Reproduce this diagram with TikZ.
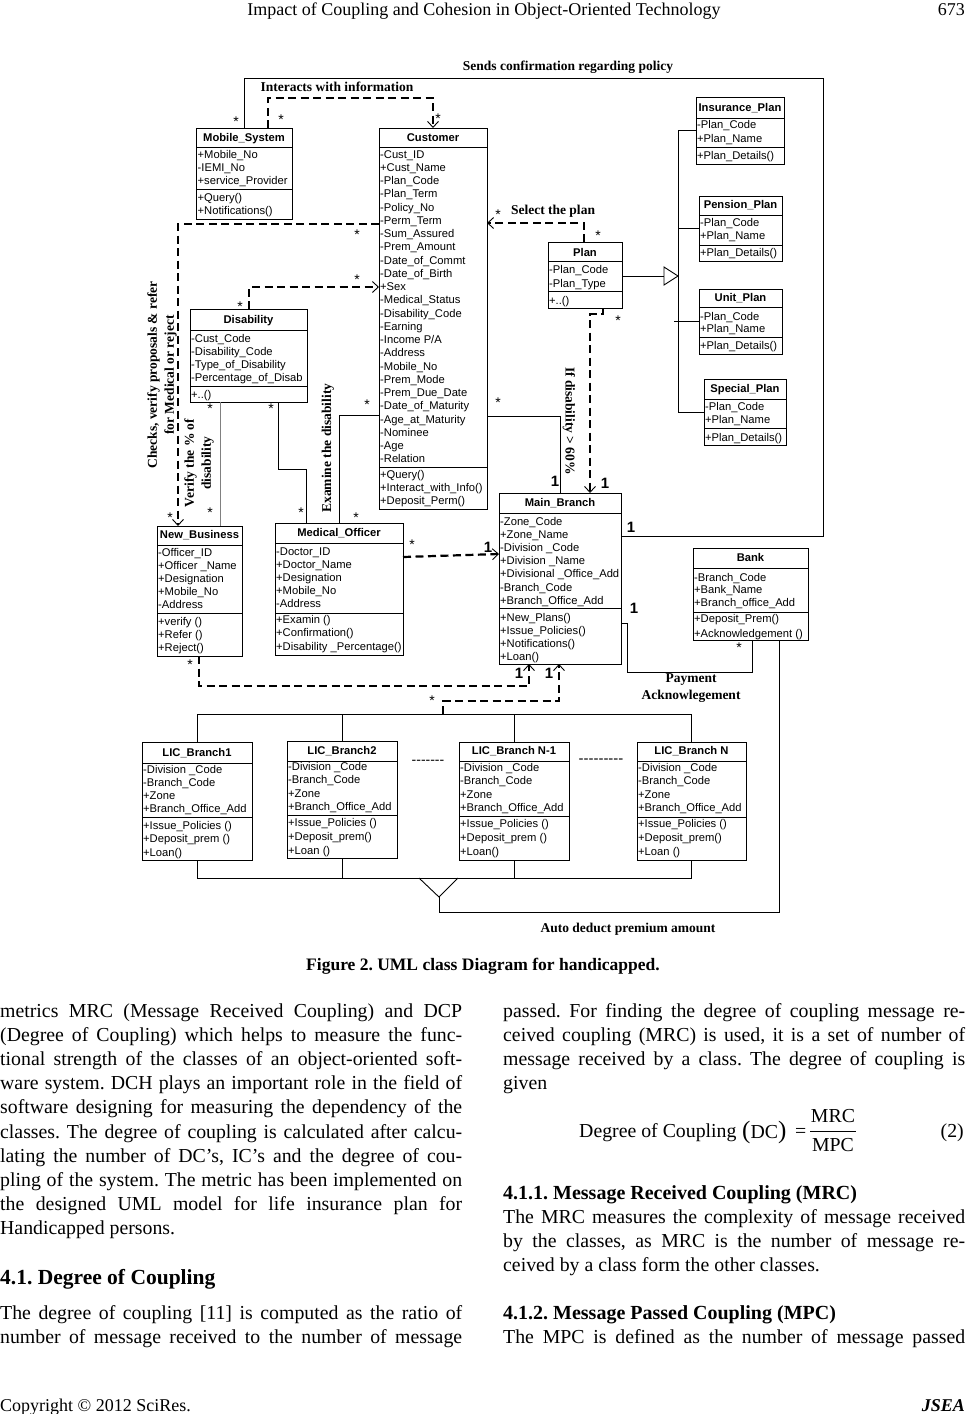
\documentclass[tikz,border=0pt]{standalone}
\usepackage{fontspec}
\setmainfont{Liberation Serif}
\newfontfamily\arial{Liberation Sans}
\usetikzlibrary{arrows.meta}
\frenchspacing
\tikzset{
 box/.style={draw, line width=0.9pt, inner sep=0, outer sep=0, anchor=north west},
 boxline/.style={line width=0.9pt},
 attr/.style={font=\arial\fontsize{11.2}{13}\selectfont, inner sep=0, anchor=base west},
 ttl/.style={font=\arial\bfseries\fontsize{11.2}{13}\selectfont, inner sep=0, anchor=base},
 conn/.style={line width=0.9pt},
 dconn/.style={line width=2.2pt, dash pattern=on 8pt off 4.5pt},
 opena/.style={-{Straight Barb[length=6pt,width=11pt,line width=0.9pt]}},
 lbl/.style={font=\bfseries\fontsize{13.5}{17}\selectfont, inner sep=0, align=center},
 mult/.style={font=\arial\fontsize{14}{15}\selectfont, inner sep=0, yshift=-3pt},
 one/.style={font=\arial\bfseries\fontsize{15}{16}\selectfont, inner sep=0},
 body/.style={font=\fontsize{19.8}{24}\selectfont, inner sep=0, anchor=base west},
 bhead/.style={font=\bfseries\fontsize{20}{24}\selectfont, inner sep=0, anchor=base west},
}
\newcommand\umlbox[9]{%
 \pgfmathsetmacro\bw{#4-#2}\pgfmathsetmacro\bh{#5-#3}\pgfmathsetmacro\ty{#9+4}%
 \node[box, minimum width=\bw pt, minimum height=\bh pt] (#1) at (#2,#3) {};
 \draw[boxline] (#1.west |- 0,#6) -- (#1.east |- 0,#6);
 \draw[boxline] (#1.west |- 0,#7) -- (#1.east |- 0,#7);
 \node[ttl] at (#1.north |- 0,\ty) {#8};}
\newcommand\attrs[4]{\foreach \itm [count=\i from 0] in {#4} {\pgfmathsetmacro\yy{#2+\i*#3+4}\node[attr] at (#1,\yy) {\itm};}}
\newcommand\jline[3]{\node[body] at (#1,#2) {\makebox[462pt][s]{#3}};}
\newcommand\pline[3]{\node[body] at (#1,#2) {#3};}
\begin{document}
\begin{tikzpicture}[x=1pt,y=-1pt]
\useasboundingbox (0,0) rectangle (967,1414);
\fill[white] (0,0) rectangle (967,1414);

% page header
\node[font=\fontsize{18}{20}\selectfont, inner sep=0, anchor=base] (hdr) at (484,15) {Impact of Coupling and Cohesion in Object-Oriented Technology};
\node[font=\fontsize{18}{20}\selectfont, inner sep=0, anchor=base east] (pg) at (965,15) {673};

% ---------- classes ----------
\umlbox{ms}{196}{128}{292}{219}{147}{189}{Mobile\_System}{137}
\attrs{197.5}{154}{13}{+Mobile\_No,-IEMI\_No,+service\_Provider}
\attrs{197.5}{197}{13}{+Query(),+Notifications()}

\umlbox{cust}{379}{128}{487}{509}{147}{467}{Customer}{137}
\attrs{380}{154}{13.26}{-Cust\_ID,+Cust\_Name,-Plan\_Code,-Plan\_Term,-Policy\_No,-Perm\_Term,-Sum\_Assured,-Prem\_Amount,-Date\_of\_Commt,-Date\_of\_Birth,+Sex,-Medical\_Status,-Disability\_Code,-Earning,-Income P/A,-Address,-Mobile\_No,-Prem\_Mode,-Prem\_Due\_Date,-Date\_of\_Maturity,-Age\_at\_Maturity,-Nominee,-Age,-Relation}
\attrs{380}{474}{13}{+Query(),+Interact\_with\_Info(),+Deposit\_Perm()}

\umlbox{plan}{548}{242}{622}{308}{261}{291}{Plan}{252}
\attrs{549}{269}{14}{-Plan\_Code,-Plan\_Type}
\attrs{549}{300}{13}{+..()}

\umlbox{ins}{696}{97}{784}{164}{118}{147}{Insurance\_Plan}{107}
\attrs{697}{124}{14}{-Plan\_Code,+Plan\_Name}
\attrs{697}{155}{13}{+Plan\_Details()}

\umlbox{pen}{699}{196}{782}{261}{215}{245}{Pension\_Plan}{204}
\attrs{700}{222}{13.5}{-Plan\_Code,+Plan\_Name}
\attrs{700}{252}{13}{+Plan\_Details()}

\umlbox{unit}{699}{289}{782}{354}{307}{337}{Unit\_Plan}{297}
\attrs{700}{316}{12.5}{-Plan\_Code,+Plan\_Name}
\attrs{700}{345}{13}{+Plan\_Details()}

\umlbox{spec}{704}{379}{786}{445}{399}{428}{Special\_Plan}{388}
\attrs{705}{406}{13}{-Plan\_Code,+Plan\_Name}
\attrs{705}{437}{13}{+Plan\_Details()}

\umlbox{dis}{190}{309}{307}{402}{330}{386}{Disability}{319}
\attrs{191}{338}{13}{-Cust\_Code,-Disability\_Code,-Type\_of\_Disability,-Percentage\_of\_Disab}
\attrs{191}{394}{13}{+..()}

\umlbox{nb}{157}{526}{242}{656}{545}{613}{New\_Business}{534}
\attrs{158}{552}{13.2}{-Officer\_ID,+Officer \_Name,+Designation,+Mobile\_No,-Address}
\attrs{158}{621}{13}{+verify (),+Refer (),+Reject()}

\umlbox{mo}{275}{523}{403}{655}{543}{613}{Medical\_Officer}{532}
\attrs{276}{551}{13.2}{-Doctor\_ID,+Doctor\_Name,+Designation,+Mobile\_No,-Address}
\attrs{276}{619}{13.5}{+Examin (),+Confirmation(),+Disability \_Percentage()}

\umlbox{mb}{499}{493}{621}{664}{513}{608}{Main\_Branch}{502}
\attrs{500}{521}{13.2}{-Zone\_Code,+Zone\_Name,-Division \_Code,+Division \_Name,+Divisional \_Office\_Add,-Branch\_Code,+Branch\_Office\_Add}
\attrs{500}{617}{13}{+New\_Plans(),+Issue\_Policies(),+Notifications(),+Loan()}

\umlbox{bank}{693}{548}{808}{640}{568}{612}{Bank}{557}
\attrs{694}{577}{12.7}{-Branch\_Code,+Bank\_Name,+Branch\_office\_Add}
\attrs{694}{618}{15}{+Deposit\_Prem(),+Acknowledgement ()}

\umlbox{lA}{142}{742}{252}{860}{763}{817}{LIC\_Branch1}{752}
\attrs{143}{769}{13.3}{-Division \_Code,-Branch\_Code,+Zone,+Branch\_Office\_Add}
\attrs{143}{825}{13.5}{+Issue\_Policies (),+Deposit\_prem (),+Loan()}

\umlbox{lB}{287}{741}{397}{858}{761}{815}{LIC\_Branch2}{750}
\attrs{288}{766}{13.6}{-Division \_Code,-Branch\_Code,+Zone,+Branch\_Office\_Add}
\attrs{288}{822}{14}{+Issue\_Policies (),+Deposit\_prem(),+Loan ()}

\umlbox{lC}{459}{742}{569}{860}{761}{816}{LIC\_Branch N-1}{750}
\attrs{460}{767}{13.6}{-Division \_Code,-Branch\_Code,+Zone,+Branch\_Office\_Add}
\attrs{460}{823}{14}{+Issue\_Policies (),+Deposit\_prem (),+Loan()}

\umlbox{lD}{637}{742}{746}{860}{761}{817}{LIC\_Branch N}{750}
\attrs{638}{767}{13.6}{-Division \_Code,-Branch\_Code,+Zone,+Branch\_Office\_Add}
\attrs{638}{823}{14}{+Issue\_Policies (),+Deposit\_prem(),+Loan ()}

\node[font=\arial\fontsize{14}{15}\selectfont, inner sep=0] (dots1) at (428,762) {-------};
\node[font=\arial\fontsize{15}{15}\selectfont, inner sep=0] (dots2) at (601,761) {---------};

% ---------- connectors ----------
\draw[conn] (244,0 |- ms.north) -- (244,78) -- (823,78) -- (823,536) -- (mb.east |- 0,536);
\draw[dconn, opena] (268,0 |- ms.north) -- (268,98) -- (433,98) -- (433,0 |- cust.north);
\draw[dconn, opena] (584,0 |- plan.north) -- (584,223) -- (cust.east |- 0,223);
\draw[dconn, opena] (603,0 |- plan.south) -- (603,314) -- (590,314) -- (590,0 |- mb.north);
\draw[conn] (cust.east |- 0,416) -- (560,416) -- (560,0 |- mb.north);
\draw[conn] (cust.west |- 0,415) -- (339,415) -- (339,0 |- mo.north);
\draw[dconn, opena] (249,0 |- dis.north) -- (249,287) -- (cust.west |- 0,287);
\draw[dconn, opena] (cust.west |- 0,224) -- (178,224) -- (178,0 |- nb.north);
\draw[conn] (278,0 |- dis.south) -- (278,469) -- (306,469) -- (306,0 |- mo.north);
\draw[conn, gray] (220,0 |- dis.south) -- (220,0 |- nb.north);
\draw[dconn, opena] (mo.east |- 0,557) -- (mb.west |- 0,554);
\draw[dconn, opena] (199,0 |- nb.south) -- (199,686) -- (529,686) -- (529,0 |- mb.south);
\coordinate (busj) at (443,714);
\draw[dconn, opena] (busj) -- (443,701) -- (559,701) -- (559,0 |- mb.south);
\draw[conn] (mb.east |- 0,623) -- (627,623) -- (627,672) -- (752,672) -- (752,0 |- bank.south);

% generalization of plans
\coordinate (gtip) at (678,276);
\draw[conn] (plan.east |- 0,276) -- (664,276);
\draw[conn] (664,267) -- (gtip) -- (664,285) -- cycle;
\draw[conn] (678,130) -- (678,412);
\draw[conn] (678,130) -- (ins.west |- 0,130);
\draw[conn] (678,228) -- (pen.west |- 0,228);
\draw[conn] (674,321) -- (unit.west |- 0,321);
\draw[conn] (678,412) -- (spec.west |- 0,412);

% LIC branches buses
\draw[conn] (lA.north) -- (lA.north |- 0,714) -- (lD.north |- 0,714) -- (lD.north);
\draw[conn] (lB.north) -- (lB.north |- 0,714);
\draw[conn] (lC.north) -- (lC.north |- 0,714);
\draw[conn] (lA.south) -- (lA.south |- 0,878) -- (lD.south |- 0,878) -- (lD.south);
\draw[conn] (lB.south) -- (lB.south |- 0,878);
\draw[conn] (lC.south) -- (lC.south |- 0,878);
\coordinate (tip) at (439,897);
\draw[conn] (419,878) -- (tip) -- (458,878);
\draw[conn] (779,0 |- bank.south) -- (779,912) -- (439,912) -- (tip);

% ---------- labels ----------
\node[lbl] (l1) at (568,67) {Sends confirmation regarding policy};
\node[lbl] (l2) at (337,87) {Interacts with information};
\node[lbl] (l3) at (553,211) {Select the plan};
\node[lbl, rotate=90] (l4) at (162,375) {Checks, verify proposals \&\ refer\\for Medical or reject};
\node[lbl, rotate=90] (l5) at (199,463) {Verify the \% of\\disability};
\node[lbl, rotate=90] (l6) at (328,448) {Examine the disability};
\node[lbl, rotate=-90] (l7) at (569,421) {If disability > 60\%};
\node[lbl] (l8) at (691,688) {Payment\\Acknowlegement};
\node[lbl] (l9) at (628,929) {Auto deduct premium amount};

\foreach \p in {(236,119),(281,117),(438,116),(498,212),(598,233),(357,232),(357,277),(240,304),(618,318),(367,402),(498,400),(271,406),(210,406),(210,510),(301,510),(170,515),(356,515),(412,542),(190,662),(432,698),(739,645)} \node[mult] at \p {*};
\foreach \p in {(631,527),(555,481),(605,483),(488,547),(634,608),(519,673),(549,673)} \node[one] at \p {1};

% ---------- caption and body ----------
\node[font=\bfseries\fontsize{17.5}{20}\selectfont, inner sep=0, anchor=base] (cap) at (483,970) {Figure 2. UML class Diagram for handicapped.};

\jline{0}{1017}{metrics MRC (Message Received Coupling) and DCP}
\jline{0}{1041.2}{(Degree of Coupling) which helps to measure the func-}
\jline{0}{1065.4}{tional strength of the classes of an object-oriented soft-}
\jline{0}{1089.6}{ware system. DCH plays an important role in the field of}
\jline{0}{1113.8}{software designing for measuring the dependency of the}
\jline{0}{1138}{classes. The degree of coupling is calculated after calcu-}
\jline{0}{1162.2}{lating the number of DC’s, IC’s and the degree of cou-}
\jline{0}{1186.4}{pling of the system. The metric has been implemented on}
\jline{0}{1210.6}{the designed UML model for life insurance plan for}
\pline{0}{1234.8}{Handicapped persons.}
\node[font=\bfseries\fontsize{21.5}{24}\selectfont, inner sep=0, anchor=base west] (h41) at (0,1284) {4.1. Degree of Coupling};
\jline{0}{1319}{The degree of coupling [11] is computed as the ratio of}
\jline{0}{1343}{number of message received to the number of message}

\jline{503}{1017}{passed. For finding the degree of coupling message re-}
\jline{503}{1041.2}{ceived coupling (MRC) is used, it is a set of number of}
\jline{503}{1065.4}{message received by a class. The degree of coupling is}
\pline{503}{1089.6}{given}
\node[body] (eq1) at (579,1137) {Degree of Coupling};
\node[body] (eq2) at (742,1138) {{\fontsize{25}{25}\selectfont(}DC{\fontsize{25}{25}\selectfont)}};
\node[body] (eq3) at (795,1137) {=};
\node[font=\fontsize{19.8}{24}\selectfont, inner sep=0, anchor=base] (eq4) at (833,1122) {MRC};
\node[font=\fontsize{19.8}{24}\selectfont, inner sep=0, anchor=base] (eq5) at (833,1151) {MPC};
\draw[line width=0.8pt] (810,1131) -- (856,1131);
\node[font=\fontsize{19.8}{24}\selectfont, inner sep=0, anchor=base east] (eqn) at (964,1137) {(2)};
\node[bhead] (h411) at (503,1199) {4.1.1. Message Received Coupling (MRC)};
\jline{503}{1223}{The MRC measures the complexity of message received}
\jline{503}{1247}{by the classes, as MRC is the number of message re-}
\pline{503}{1271}{ceived by a class form the other classes.}
\node[bhead] (h412) at (503,1319) {4.1.2. Message Passed Coupling (MPC)};
\jline{503}{1343}{The MPC is defined as the number of message passed}

\node[font=\fontsize{18}{20}\selectfont, inner sep=0, anchor=base west] (copy) at (0,1411) {Copyright © 2012 SciRes.};
\node[font=\bfseries\itshape\fontsize{18}{20}\selectfont, inner sep=0, anchor=base east] (jsea) at (965,1411) {JSEA};
\end{tikzpicture}
\end{document}
